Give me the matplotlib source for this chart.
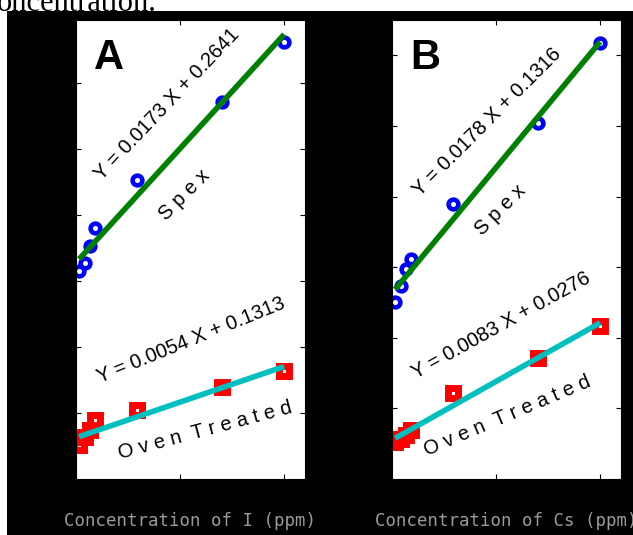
import matplotlib

matplotlib.use("Agg")
import matplotlib.pyplot as plt

# concentration (ppm), same for both panels
conc = [0.15, 0.45, 0.65, 0.9, 2.95, 7.0, 10.0]

# panel A (I)
a_spex = [0.258, 0.264, 0.277, 0.290, 0.327, 0.386, 0.431]
a_oven = [0.126, 0.132, 0.137, 0.145, 0.152, 0.170, 0.182]
a_spex_fit = (0.0173, 0.2641)
a_oven_fit = (0.0054, 0.1313)

# panel B (Cs)
b_spex = [0.125, 0.137, 0.149, 0.156, 0.195, 0.252, 0.309]
b_oven = [0.026, 0.028, 0.031, 0.035, 0.061, 0.086, 0.108]
b_spex_fit = (0.0178, 0.1316)
b_oven_fit = (0.0083, 0.0276)

W, H = 633, 535
fig = plt.figure(figsize=(W / 100, H / 100), dpi=100, facecolor="white")

# black backdrop, leaves a thin white strip on top and left
bg = fig.add_axes([7 / W, 0, 1 - 7 / W, (H - 11) / H], zorder=0)
bg.set_facecolor("black")
bg.set_xticks([])
bg.set_yticks([])
for s in bg.spines.values():
    s.set_visible(False)

# leftover caption line from the page above the figure
fig.text(-3 / W, (H - 11) / H, "oncentration.", family="Liberation Serif",
         fontsize=22, ha="left", va="baseline", color="black", zorder=-1)


def fit_line(ax, fit, color):
    m, c = fit
    xs = [min(conc), max(conc)]
    ax.plot(xs, [m * x + c for x in xs], color=color, lw=4,
            solid_capstyle="butt", zorder=3)


def label(ax, x, y, s, rot, size=14.5, **kw):
    ax.text(x, y, s, transform=ax.transAxes, rotation=rot, rotation_mode="anchor",
            ha="center", va="center", fontsize=size, family="Liberation Sans", **kw)


def panel(left, letter, spex, oven, spex_fit, oven_fit, ylim, yticks, element, txt):
    ax = fig.add_axes([left / W, 56 / H, 229 / W, 459 / H], zorder=1)
    ax.set_facecolor("white")
    ax.plot(conc, spex, "o", ms=7, mew=3.3, mec="blue", mfc="none", zorder=2)
    ax.plot(conc, oven, "s", ms=7.5, mew=5, mec="red", mfc="none", zorder=2)
    fit_line(ax, spex_fit, "green")
    fit_line(ax, oven_fit, "#00bfbf")
    ax.set_xlim(0, 11)
    ax.set_ylim(*ylim)
    ax.set_xticks([5, 10])
    ax.set_yticks(yticks)
    ax.tick_params(direction="in", length=3.6, width=0.8, color="black",
                   top=True, right=True, labelbottom=False, labelleft=False)
    for s in ax.spines.values():
        s.set_color("black")

    label(ax, 0.146, 0.918, letter, 0, size=30, weight="bold")
    (sx, sy, sr), (px, py, pr), (ex, ey, er), (ox, oy, orr) = txt
    m, c = spex_fit
    label(ax, sx, sy, f"Y = {m:.4f} X + {c:.4f}", sr)
    label(ax, px, py, "S p e x", pr)
    m, c = oven_fit
    label(ax, ex, ey, f"Y = {m:.4f} X + {c:.4f}", er)
    label(ax, ox, oy, "O v e n  T r e a t e d", orr)

    fig.text((left + 229 / 2) / W, (H - 521) / H, f"Concentration of {element} (ppm)",
             ha="center", va="center", family="DejaVu Sans Mono", fontsize=12.5,
             color="#9a9a9a")
    return ax


panel(76, "A", a_spex, a_oven, a_spex_fit, a_oven_fit, (0.1, 0.448),
      [0.15, 0.2, 0.25, 0.3, 0.35, 0.4], "I",
      [(0.40, 0.817, 46.5), (0.476, 0.619, 45), (0.502, 0.303, 22), (0.563, 0.105, 15)])
panel(392, "B", b_spex, b_oven, b_spex_fit, b_oven_fit, (0.0, 0.325),
      [0.05, 0.1, 0.15, 0.2, 0.25, 0.3], "Cs",
      [(0.415, 0.778, 45), (0.472, 0.586, 45), (0.476, 0.335, 29), (0.502, 0.137, 23)])

fig.savefig("out.png", dpi=100)
